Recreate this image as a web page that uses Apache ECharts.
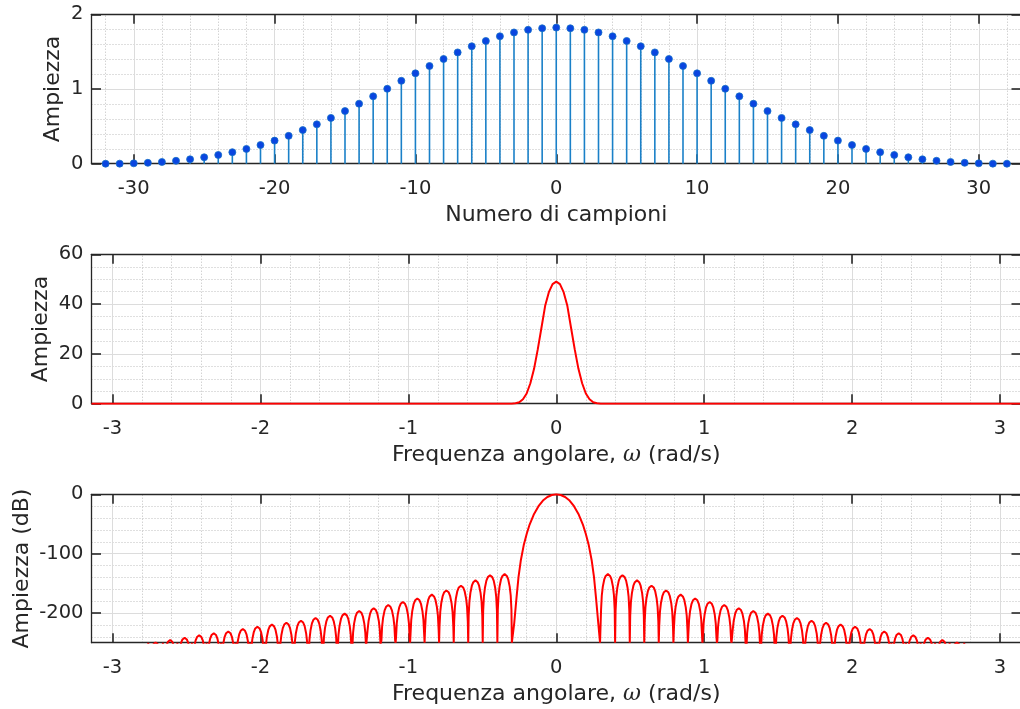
<!DOCTYPE html>
<html>
<head>
<meta charset="utf-8">
<script src="https://cdn.jsdelivr.net/npm/echarts@6/dist/echarts.min.js"></script>
<style>
html, body { margin: 0; padding: 0; background: #ffffff; }
#chart { width: 1020px; height: 709px; }
</style>
</head>
<body>
<div id="chart"></div>
<script>
// ---- window samples (stem plot) ----
const sampleIndex = [-32, -31, -30, -29, -28, -27, -26, -25, -24, -23, -22, -21, -20, -19, -18, -17,
  -16, -15, -14, -13, -12, -11, -10, -9, -8, -7, -6, -5, -4, -3, -2, -1, 0,
  1, 2, 3, 4, 5, 6, 7, 8, 9, 10, 11, 12, 13, 14, 15, 16,
  17, 18, 19, 20, 21, 22, 23, 24, 25, 26, 27, 28, 29, 30, 31, 32];
const sampleValues = [0.000, 0.001, 0.005, 0.012, 0.023, 0.039, 0.059, 0.086, 0.117, 0.154, 0.198,
  0.250, 0.309, 0.373, 0.450, 0.527, 0.613, 0.705, 0.803, 0.902, 1.003, 1.110, 1.210, 1.308,
  1.402, 1.490, 1.572, 1.643, 1.706, 1.757, 1.792, 1.813, 1.822,
  1.813, 1.792, 1.757, 1.706, 1.643, 1.572, 1.490, 1.402, 1.308, 1.210, 1.110, 1.003, 0.902,
  0.803, 0.705, 0.613, 0.527, 0.450, 0.373, 0.309, 0.250, 0.198, 0.154, 0.117, 0.086, 0.059,
  0.039, 0.023, 0.012, 0.005, 0.001, 0.000];

// ---- magnitude spectrum, main peak (one side, symmetric about 0) ----
const peakOmega = [0, 0.025, 0.05, 0.075, 0.1, 0.125, 0.15, 0.175, 0.2, 0.225, 0.25, 0.275, 0.3];
const peakAmplitude = [49.0, 48.0, 44.8, 39.3, 30.5, 21.8, 14.0, 8.2, 4.1, 1.8, 0.6, 0.15, 0.0];

// ---- magnitude in dB (one side, symmetric about 0) ----
const mainLobeOmega = [0, 0.03, 0.06, 0.09, 0.12, 0.15, 0.18, 0.2, 0.22, 0.24, 0.255, 0.27, 0.284, 0.296];
const mainLobeDb = [0, -1.2, -4.6, -10.5, -20, -33, -51, -67, -86, -112, -139, -178, -217, -250];
const sidelobeNullOmega = [0.300, 0.398, 0.497, 0.595, 0.693, 0.792, 0.890, 0.988, 1.086, 1.185,
  1.283, 1.381, 1.480, 1.578, 1.676, 1.775, 1.873, 1.971, 2.069, 2.168, 2.266, 2.364, 2.463,
  2.561, 2.659, 2.758];
const sidelobePeakDb = [-134.5, -136.5, -145, -154, -162, -169, -175.5, -181.5, -186.5, -192,
  -196.5, -201, -204.5, -208.5, -213, -216.5, -219.5, -223, -227, -231, -234, -237.5, -241.5,
  -245.5, -249.5];
// outline of one sidelobe arch: position across the lobe and depth below its top (dB)
const lobeOutlineFrac = [0.03, 0.08, 0.15, 0.25, 0.35, 0.5, 0.65, 0.75, 0.85, 0.92, 0.97];
const lobeOutlineDrop = [-60, -36, -21, -9, -3, 0, -3, -9, -21, -36, -60];
const dbFloor = -250;

// ---- tick labels and grid positions ----
const sampleTicks = [-30, -20, -10, 0, 10, 20, 30];
const sampleMinorTicks = [-32, -28, -26, -24, -22, -18, -16, -14, -12, -8, -6, -4, -2,
  2, 4, 6, 8, 12, 14, 16, 18, 22, 24, 26, 28, 32];
const amplitudeTicks = [0, 1, 2];
const amplitudeMinorTicks = [0.2, 0.4, 0.6, 0.8, 1.2, 1.4, 1.6, 1.8];
const omegaTicks = [-3, -2, -1, 0, 1, 2, 3];
const omegaMinorTicks = [-2.8, -2.6, -2.4, -2.2, -1.8, -1.6, -1.4, -1.2, -0.8, -0.6, -0.4, -0.2,
  0.2, 0.4, 0.6, 0.8, 1.2, 1.4, 1.6, 1.8, 2.2, 2.4, 2.6, 2.8];
const spectrumTicks = [0, 20, 40, 60];
const spectrumMinorTicks = [5, 10, 15, 25, 30, 35, 45, 50, 55];
const dbTicks = [-200, -100, 0];
const dbMinorTicks = [-240, -220, -180, -160, -140, -120, -80, -60, -40, -20];

// ---- build series data ----
const stemData = sampleIndex.map((n, i) => [n, sampleValues[i]]);

function mirrored(half) {
  const left = half.filter(p => p[0] > 0).map(p => [-p[0], p[1]]).reverse();
  return left.concat(half);
}

const spectrumHalf = peakOmega.map((w, i) => [w, peakAmplitude[i]]);
spectrumHalf.push([Math.PI, 0]);
const spectrumData = mirrored(spectrumHalf);

const dbHalf = mainLobeOmega.map((w, i) => [w, mainLobeDb[i]]);
sidelobePeakDb.forEach((peak, m) => {
  const w0 = sidelobeNullOmega[m];
  const w1 = sidelobeNullOmega[m + 1];
  dbHalf.push([w0, dbFloor]);
  lobeOutlineFrac.forEach((f, k) => {
    dbHalf.push([w0 + f * (w1 - w0), peak + lobeOutlineDrop[k]]);
  });
  dbHalf.push([w1, dbFloor]);
});
const dbData = mirrored(dbHalf);

// ---- styling helpers ----
const INK = '#262626';
const FONT = 'DejaVu Sans';
const TICK_SIZE = 19.5;
const NAME_SIZE = 22;
const gridBox = { left: 91.5, width: 929.5 };
const plotTops = [14.3, 254.3, 494.3];
const plotHeights = [149.4, 149.4, 148.4];

const majorLine = { color: '#dcdcdc', width: 1, type: 'solid' };
const minorLine = { color: '#bfbfbf', width: 1, type: [1, 2] };

function gridLines(xMajor, xMinor, yMajor, yMinor) {
  return {
    silent: true,
    z: 1,
    animation: false,
    symbol: ['none', 'none'],
    label: { show: false },
    emphasis: { disabled: true },
    data: [].concat(
      xMinor.map(v => ({ xAxis: v, lineStyle: minorLine })),
      yMinor.map(v => ({ yAxis: v, lineStyle: minorLine })),
      xMajor.map(v => ({ xAxis: v, lineStyle: majorLine })),
      yMajor.map(v => ({ yAxis: v, lineStyle: majorLine }))
    )
  };
}

function xAxisPair(gridIndex, min, max, ticks, name, nameGap) {
  const common = {
    type: 'value', gridIndex, min, max, z: 1.5,
    axisLine: { show: true, onZero: false, lineStyle: { color: INK, width: 1.3 } },
    axisTick: { show: true, inside: true, length: 9.5, customValues: ticks,
      lineStyle: { color: INK, width: 1.6 } },
    splitLine: { show: false },
    minorTick: { show: false },
    minorSplitLine: { show: false }
  };
  const bottom = Object.assign({}, common, {
    position: 'bottom',
    axisLabel: { show: true, customValues: ticks, margin: 15, color: INK,
      fontFamily: FONT, fontSize: TICK_SIZE },
    name, nameLocation: 'middle', nameGap,
    nameTextStyle: { color: INK, fontFamily: FONT, fontSize: NAME_SIZE,
      rich: { w: { fontFamily: 'DejaVu Serif', fontStyle: 'italic', fontSize: NAME_SIZE, color: INK } } }
  });
  const top = Object.assign({}, common, { position: 'top', axisLabel: { show: false } });
  return [bottom, top];
}

function yAxisPair(gridIndex, min, max, ticks, name, nameGap) {
  const common = {
    type: 'value', gridIndex, min, max, z: 1.5,
    axisLine: { show: true, onZero: false, lineStyle: { color: INK, width: 1.3 } },
    axisTick: { show: true, inside: true, length: 9.5, customValues: ticks,
      lineStyle: { color: INK, width: 1.6 } },
    splitLine: { show: false },
    minorTick: { show: false },
    minorSplitLine: { show: false }
  };
  const left = Object.assign({}, common, {
    position: 'left',
    axisLabel: { show: true, customValues: ticks, margin: 8, color: INK,
      fontFamily: FONT, fontSize: TICK_SIZE },
    name, nameLocation: 'middle', nameGap, nameMoveOverlap: false,
    nameTextStyle: { color: INK, fontFamily: FONT, fontSize: NAME_SIZE }
  });
  const right = Object.assign({}, common, { position: 'right', axisLabel: { show: false } });
  return [left, right];
}

const omegaName = 'Frequenza angolare, {w|ω} (rad/s)';

const option = {
  animation: false,
  backgroundColor: '#ffffff',
  grid: plotTops.map((t, i) => ({
    left: gridBox.left, width: gridBox.width, top: t, height: plotHeights[i],
    containLabel: false, outerBoundsMode: 'none'
  })),
  xAxis: [].concat(
    xAxisPair(0, -33, 33, sampleTicks, 'Numero di campioni', 41),
    xAxisPair(1, -Math.PI, Math.PI, omegaTicks, omegaName, 41),
    xAxisPair(2, -Math.PI, Math.PI, omegaTicks, omegaName, 41)
  ),
  yAxis: [].concat(
    yAxisPair(0, 0, 2, amplitudeTicks, 'Ampiezza', 27.5),
    yAxisPair(1, 0, 60, spectrumTicks, 'Ampiezza', 39),
    yAxisPair(2, -250, 0, dbTicks, 'Ampiezza (dB)', 58)
  ),
  series: [
    {
      name: 'stems', type: 'bar', xAxisIndex: 0, yAxisIndex: 0,
      data: stemData, barWidth: 1.6, z: 2,
      itemStyle: { color: '#1a80c8' },
      emphasis: { disabled: true },
      markLine: gridLines(sampleTicks, sampleMinorTicks, [1], amplitudeMinorTicks)
    },
    {
      name: 'samples', type: 'scatter', xAxisIndex: 0, yAxisIndex: 0,
      data: stemData, symbol: 'circle', symbolSize: 7, z: 3,
      itemStyle: { color: '#0a45e0', borderColor: '#1570c8', borderWidth: 0.8, opacity: 1 },
      emphasis: { disabled: true }
    },
    {
      name: 'magnitude', type: 'line', xAxisIndex: 2, yAxisIndex: 2,
      data: spectrumData, showSymbol: false, symbol: 'none', z: 2,
      lineStyle: { color: '#ff0000', width: 2 },
      emphasis: { disabled: true },
      markLine: gridLines(omegaTicks, omegaMinorTicks, [20, 40], spectrumMinorTicks)
    },
    {
      name: 'magnitudeDb', type: 'line', xAxisIndex: 4, yAxisIndex: 4,
      data: dbData, showSymbol: false, symbol: 'none', z: 2,
      lineStyle: { color: '#ff0000', width: 2 },
      emphasis: { disabled: true },
      markLine: gridLines(omegaTicks, omegaMinorTicks, [-100, -200], dbMinorTicks)
    }
  ]
};

const chart = echarts.init(document.getElementById('chart'), null, { renderer: 'canvas' });
chart.setOption(option);
</script>
</body>
</html>
